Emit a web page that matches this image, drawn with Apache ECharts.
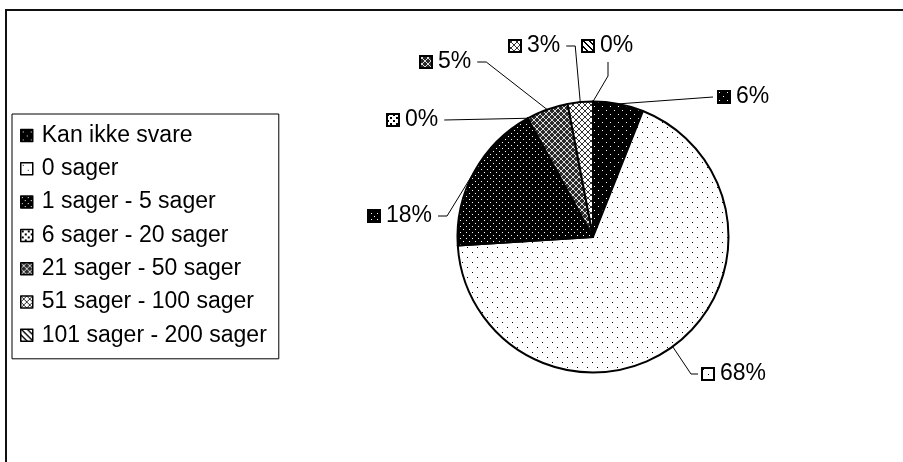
<!DOCTYPE html>
<html>
<head>
<meta charset="utf-8">
<script src="https://cdn.jsdelivr.net/npm/echarts@6/dist/echarts.min.js"></script>
<style>
html,body{margin:0;padding:0;background:#fff;}
#chart{width:903px;height:462px;}
</style>
</head>
<body>
<div id="chart"></div>
<script>
// ---- data ----
const CATEGORIES = ['Kan ikke svare', '0 sager', '1 sager - 5 sager', '6 sager - 20 sager',
  '21 sager - 50 sager', '51 sager - 100 sager', '101 sager - 200 sager'];
const SHARES = [6, 68, 18, 0, 5, 3, 0]; // percent

// ---- label layout (positions of the data labels: icon-left x, centre y) ----
const LABEL_POS = [[717, 97], [701, 374], [367, 216], [386, 120], [419, 62], [508, 46], [581, 46]];
const LABEL_SIDE = ['right', 'right', 'left', 'left', 'left', 'left', 'below'];

// ---- patterns ----
function makeTile(w, h, bg, fg, pts) {
  const c = document.createElement('canvas');
  c.width = w; c.height = h;
  const ctx = c.getContext('2d');
  ctx.fillStyle = bg; ctx.fillRect(0, 0, w, h);
  ctx.fillStyle = fg;
  pts.forEach(p => ctx.fillRect(p[0], p[1], p[2] || 1, p[3] || 1));
  return c;
}
function diag(n, anti, thick) {
  const pts = [];
  for (let i = 0; i < n; i++) {
    for (let t = 0; t < (thick || 1); t++) {
      const x = anti ? (n - 1 - i) : i;
      pts.push([(x + t) % n, i]);
    }
  }
  return pts;
}
const tiles = [
  makeTile(8, 8, '#000', '#fff', [[2, 2], [6, 6]]),
  makeTile(10, 10, '#fff', '#000', [[2, 2], [7, 7]]),
  makeTile(6, 6, '#000', '#fff', [[1, 1], [4, 4]]),
  makeTile(6, 6, '#fff', '#000', [[1, 1, 2, 2], [4, 4, 2, 2]]),
  makeTile(6, 6, '#2a2a2a', '#ddd', diag(6, false).concat(diag(6, true))),
  makeTile(6, 6, '#fff', '#333', diag(6, false).concat(diag(6, true))),
  makeTile(6, 6, '#fff', '#000', diag(6, false, 2))
];
function makeIcon(t, s) {
  const c = document.createElement('canvas');
  c.width = s; c.height = s;
  const ctx = c.getContext('2d');
  ctx.fillStyle = ctx.createPattern(t, 'repeat');
  ctx.fillRect(0, 0, s, s);
  ctx.strokeStyle = '#000'; ctx.lineWidth = 2;
  ctx.strokeRect(1, 1, s - 2, s - 2);
  return c;
}
const icons = tiles.map(t => makeIcon(t, 14));

const FONT = '"Liberation Sans", Arial, sans-serif';

const pieData = CATEGORIES.map((name, i) => ({
  name: name,
  value: SHARES[i],
  itemStyle: { color: { image: tiles[i], repeat: 'repeat' } },
  label: {
    formatter: '{icon|}{v|' + SHARES[i] + '%}',
    rich: {
      icon: { width: 14, height: 14, backgroundColor: { image: icons[i] } },
      v: { fontSize: 23, fontFamily: FONT, color: '#000', padding: [0, 0, 0, 5], lineHeight: 26 }
    }
  }
}));

const chart = echarts.init(document.getElementById('chart'));
chart.setOption({
  animation: false,
  backgroundColor: '#fff',
  graphic: [{
    type: 'rect', silent: true,
    shape: { x: 6, y: 10, width: 910, height: 470 },
    style: { fill: 'none', stroke: '#111', lineWidth: 2 }
  }],
  legend: {
    orient: 'vertical',
    left: 12, top: 114,
    backgroundColor: '#fff',
    borderColor: '#000', borderWidth: 1,
    padding: [10, 12, 12, 8],
    itemWidth: 12, itemHeight: 12,
    itemGap: 10.3,
    icon: 'rect',
    itemStyle: { borderColor: '#000', borderWidth: 1.5 },
    textStyle: { fontSize: 23, fontFamily: FONT, color: '#000', lineHeight: 23, padding: [0, 0, 0, 4] },
    data: CATEGORIES
  },
  series: [{
    type: 'pie',
    center: [593, 237],
    radius: 135.5,
    startAngle: 90,
    clockwise: true,
    avoidLabelOverlap: false,
    itemStyle: { borderColor: '#000', borderWidth: 2 },
    label: { show: true, position: 'outside' },
    labelLine: { show: true, length: 10, length2: 10, smooth: false, lineStyle: { color: '#000', width: 1 } },
    emphasis: { disabled: true },
    labelLayout: function (params) {
      const i = params.dataIndex;
      const x = LABEL_POS[i][0], y = LABEL_POS[i][1];
      const w = params.labelRect.width;
      const p0 = params.labelLinePoints ? params.labelLinePoints[0].slice() : [x, y];
      const xr = x + w;
      let pts;
      switch (LABEL_SIDE[i]) {
        case 'right':
          pts = i === 0 ? [p0, [x - 4, y]] : [p0, [x - 10, y], [x - 3, y]];
          break;
        case 'left':
          pts = i === 3 ? [p0, [xr + 6, y]] : [p0, [xr + 15, y], [xr + 6, y]];
          break;
        default:
          pts = [p0, [x + 27, y + 30], [x + 27, y + 16]];
      }
      return { x: x, y: y, align: 'left', verticalAlign: 'middle', labelLinePoints: pts };
    },
    data: pieData
  }]
});
</script>
</body>
</html>
